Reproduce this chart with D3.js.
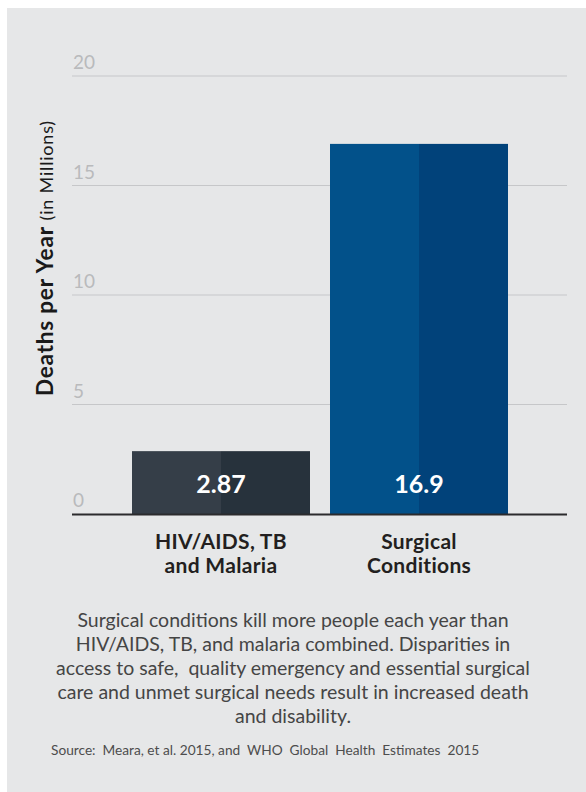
<!DOCTYPE html>
<html>
<head>
<meta charset="utf-8">
<script src="https://cdn.jsdelivr.net/npm/d3@7"></script>
<style>
  html, body { margin: 0; padding: 0; background: #ffffff; }
  svg { display: block; }
  text { font-family: Lato, "Open Sans", sans-serif; }
</style>
</head>
<body>
<svg id="chart" width="586" height="792"></svg>
<script>
// Data
const categories = ["HIV/AIDS, TB and Malaria", "Surgical Conditions"];
const categoryLines = [["HIV/AIDS, TB", "and Malaria"], ["Surgical", "Conditions"]];
const deaths = [2.87, 16.9];
const valueLabels = ["2.87", "16.9"];
const yTicks = [0, 5, 10, 15, 20];
const barColorsLeft = ["#353e48", "#02518a"];
const barColorsRight = ["#27323c", "#01427a"];
const captionLines = [
  "Surgical conditions kill more people each year than",
  "HIV/AIDS, TB, and malaria combined. Disparities in",
  "access to safe,  quality emergency and essential surgical",
  "care and unmet surgical needs result in increased death",
  "and disability."
];
const sourceText = "Source:  Meara, et al. 2015, and  WHO  Global  Health  Estimates  2015";

const svg = d3.select("#chart");

// Panel background
svg.append("rect")
  .attr("x", 7).attr("y", 8)
  .attr("width", 579).attr("height", 784)
  .attr("fill", "#e6e7e8");

// Scales
const y = d3.scaleLinear().domain([0, 20]).range([514, 76]);
const x = d3.scaleBand()
  .domain(categories)
  .range([132, 508])
  .paddingInner(20 / 198)
  .paddingOuter(0);

const gridX0 = 72, gridX1 = 567;

// Gridlines
svg.append("g")
  .selectAll("line")
  .data(yTicks.filter(t => t > 0))
  .join("line")
  .attr("x1", gridX0).attr("x2", gridX1)
  .attr("y1", d => y(d)).attr("y2", d => y(d))
  .attr("stroke", "#c6c7c9")
  .attr("stroke-width", 1.2);

// Tick labels
svg.append("g")
  .selectAll("text")
  .data(yTicks)
  .join("text")
  .attr("x", 73)
  .attr("y", d => y(d) - 7)
  .attr("fill", "#b9babc")
  .attr("font-size", 19)
  .text(d => d);

// Bars: two-tone halves
const bars = svg.append("g")
  .selectAll("g")
  .data(categories)
  .join("g");

bars.append("rect")
  .attr("x", d => x(d))
  .attr("y", (d, i) => y(deaths[i]))
  .attr("width", x.bandwidth() / 2)
  .attr("height", (d, i) => y(0) - y(deaths[i]))
  .attr("fill", (d, i) => barColorsLeft[i]);

bars.append("rect")
  .attr("x", d => x(d) + x.bandwidth() / 2)
  .attr("y", (d, i) => y(deaths[i]))
  .attr("width", x.bandwidth() / 2)
  .attr("height", (d, i) => y(0) - y(deaths[i]))
  .attr("fill", (d, i) => barColorsRight[i]);

// Value labels
bars.append("text")
  .attr("x", d => x(d) + x.bandwidth() / 2)
  .attr("y", 493)
  .attr("text-anchor", "middle")
  .attr("fill", "#ffffff")
  .attr("font-weight", "bold")
  .attr("font-size", 25)
  .text((d, i) => valueLabels[i]);

// Baseline
svg.append("line")
  .attr("x1", gridX0).attr("x2", gridX1)
  .attr("y1", y(0) + 0.5).attr("y2", y(0) + 0.5)
  .attr("stroke", "#2b2b2d")
  .attr("stroke-width", 2);

// Category labels, one text per line
categories.forEach((c, i) => {
  categoryLines[i].forEach((line, j) => {
    svg.append("text")
      .attr("x", x(c) + x.bandwidth() / 2)
      .attr("y", 549 + j * 24)
      .attr("text-anchor", "middle")
      .attr("fill", "#231f20")
      .attr("font-weight", "bold")
      .attr("font-size", 21)
      .attr("letter-spacing", 0.3)
      .text(line);
  });
});

// Y axis title
const yTitle = svg.append("text")
  .attr("transform", `translate(53, ${(y(0) + y(20)) / 2 - 37}) rotate(-90)`)
  .attr("text-anchor", "middle")
  .attr("fill", "#1a1a1a")
  .attr("letter-spacing", 0.8);
yTitle.append("tspan").attr("font-weight", "bold").attr("font-size", 22.5).text("Deaths per Year ");
yTitle.append("tspan").attr("font-size", 18).text("(in Millions)");

// Caption
svg.append("g")
  .selectAll("text")
  .data(captionLines)
  .join("text")
  .attr("x", 293)
  .attr("y", (d, i) => 627 + i * 24)
  .attr("text-anchor", "middle")
  .attr("fill", "#454545")
  .attr("font-size", 19.5)
  .style("white-space", "pre")
  .text(d => d);

// Source line
svg.append("text")
  .attr("x", 51)
  .attr("y", 755)
  .attr("fill", "#4d4d4d")
  .attr("font-size", 13.7)
  .style("white-space", "pre")
  .text(sourceText);
</script>
</body>
</html>
